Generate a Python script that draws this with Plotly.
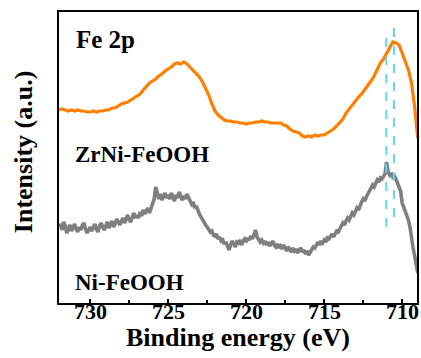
import plotly.graph_objects as go

energy = [732.0, 731.8, 731.6, 731.4, 731.2, 731.0, 730.8, 730.6, 730.4, 730.2,
          730.0, 729.8, 729.6, 729.4, 729.2, 729.0, 728.8, 728.6, 728.4, 728.2,
          728.0, 727.8, 727.6, 727.4, 727.2, 727.0, 726.8, 726.6, 726.4, 726.2,
          726.0, 725.8, 725.6, 725.4, 725.2, 725.0, 724.8, 724.6, 724.4, 724.2,
          724.0, 723.8, 723.6, 723.4, 723.2, 723.0, 722.8, 722.6, 722.4, 722.2,
          722.0, 721.8, 721.6, 721.4, 721.2, 721.0, 720.8, 720.6, 720.4, 720.2,
          720.0, 719.8, 719.6, 719.4, 719.2, 719.0, 718.8, 718.6, 718.4, 718.2,
          718.0, 717.8, 717.6, 717.4, 717.2, 717.0, 716.8, 716.6, 716.4, 716.2,
          716.0, 715.8, 715.6, 715.4, 715.2, 715.0, 714.8, 714.6, 714.4, 714.2,
          714.0, 713.8, 713.6, 713.4, 713.2, 713.0, 712.8, 712.6, 712.4, 712.2,
          712.0, 711.8, 711.6, 711.4, 711.2, 711.0, 710.8, 710.6, 710.4, 710.2,
          710.0, 709.8, 709.6, 709.4, 709.2, 709.0]

zrni_feooh = [193, 194, 193, 192, 193, 192, 193, 192, 192, 191,
              191, 192, 191, 192, 192, 193, 193, 195, 195, 197,
              199, 200, 201, 203, 205, 207, 209, 213, 217, 220,
              222, 224, 227, 229, 232, 234, 236, 239, 240, 239,
              241, 239, 236, 233, 230, 226, 221, 215, 208, 199,
              192, 188, 185, 183, 182, 182, 181, 181, 180, 180,
              179, 180, 180, 181, 181, 182, 181, 181, 180, 180,
              180, 180, 178, 177, 174, 172, 171, 170, 167, 166,
              167, 166, 168, 167, 168, 168, 170, 172, 174, 177,
              180, 184, 190, 194, 198, 203, 206, 209, 213, 217,
              222, 227, 233, 240, 244, 250, 256, 261, 260, 258,
              250, 241, 233, 220, 196, 165]

energy_fine = [732.0, 731.9, 731.8, 731.7, 731.6, 731.5, 731.4, 731.3, 731.2, 731.1,
               731.0, 730.9, 730.8, 730.7, 730.6, 730.5, 730.4, 730.3, 730.2, 730.1,
               730.0, 729.9, 729.8, 729.7, 729.6, 729.5, 729.4, 729.3, 729.2, 729.1,
               729.0, 728.9, 728.8, 728.7, 728.6, 728.5, 728.4, 728.3, 728.2, 728.1,
               728.0, 727.9, 727.8, 727.7, 727.6, 727.5, 727.4, 727.3, 727.2, 727.1,
               727.0, 726.9, 726.8, 726.7, 726.6, 726.5, 726.4, 726.3, 726.2, 726.1,
               726.0, 725.9, 725.8, 725.7, 725.6, 725.5, 725.4, 725.3, 725.2, 725.1,
               725.0, 724.9, 724.8, 724.7, 724.6, 724.5, 724.4, 724.3, 724.2, 724.1,
               724.0, 723.9, 723.8, 723.7, 723.6, 723.5, 723.4, 723.3, 723.2, 723.1,
               723.0, 722.9, 722.8, 722.7, 722.6, 722.5, 722.4, 722.3, 722.2, 722.1,
               722.0, 721.9, 721.8, 721.7, 721.6, 721.5, 721.4, 721.3, 721.2, 721.1,
               721.0, 720.9, 720.8, 720.7, 720.6, 720.5, 720.4, 720.3, 720.2, 720.1,
               720.0, 719.9, 719.8, 719.7, 719.6, 719.5, 719.4, 719.3, 719.2, 719.1,
               719.0, 718.9, 718.8, 718.7, 718.6, 718.5, 718.4, 718.3, 718.2, 718.1,
               718.0, 717.9, 717.8, 717.7, 717.6, 717.5, 717.4, 717.3, 717.2, 717.1,
               717.0, 716.9, 716.8, 716.7, 716.6, 716.5, 716.4, 716.3, 716.2, 716.1,
               716.0, 715.9, 715.8, 715.7, 715.6, 715.5, 715.4, 715.3, 715.2, 715.1,
               715.0, 714.9, 714.8, 714.7, 714.6, 714.5, 714.4, 714.3, 714.2, 714.1,
               714.0, 713.9, 713.8, 713.7, 713.6, 713.5, 713.4, 713.3, 713.2, 713.1,
               713.0, 712.9, 712.8, 712.7, 712.6, 712.5, 712.4, 712.3, 712.2, 712.1,
               712.0, 711.9, 711.8, 711.7, 711.6, 711.5, 711.4, 711.3, 711.2, 711.1,
               711.0, 710.9, 710.8, 710.7, 710.6, 710.5, 710.4, 710.3, 710.2, 710.1,
               710.0, 709.9, 709.8, 709.7, 709.6, 709.5, 709.4, 709.3, 709.2, 709.1,
               709.0]

ni_feooh = [76, 79, 73, 81, 77, 70, 74, 78, 72, 75,
            79, 74, 71, 76, 73, 78, 80, 74, 70, 73,
            76, 72, 75, 79, 74, 71, 77, 80, 76, 73,
            77, 81, 75, 78, 82, 76, 79, 84, 80, 78,
            82, 85, 80, 84, 88, 83, 81, 86, 90, 85,
            88, 85, 91, 87, 93, 89, 92, 95, 90, 94,
            99, 104, 116, 108, 104, 109, 103, 107, 110, 105,
            108, 104, 110, 106, 102, 108, 105, 111, 106, 103,
            107, 104, 109, 105, 101, 99, 101, 95, 97, 92,
            89, 86, 83, 80, 78, 76, 74, 71, 72, 68,
            67, 69, 64, 66, 62, 63, 59, 61, 57, 53,
            58, 62, 59, 56, 61, 60, 63, 58, 62, 64,
            61, 65, 63, 67, 64, 69, 73, 66, 64, 61,
            63, 60, 62, 58, 61, 57, 59, 62, 58, 56,
            59, 55, 57, 54, 58, 55, 52, 56, 54, 51,
            55, 52, 54, 50, 53, 55, 51, 53, 49, 52,
            48, 51, 54, 56, 55, 59, 61, 58, 62, 60,
            63, 61, 65, 64, 67, 69, 66, 70, 72, 71,
            75, 77, 80, 78, 82, 85, 83, 87, 90, 88,
            92, 95, 93, 98, 101, 104, 102, 106, 109, 112,
            114, 118, 116, 120, 123, 121, 125, 124, 127, 129,
            141, 131, 128, 130, 126, 127, 124, 120, 116, 112,
            100, 96, 91, 87, 83, 76, 63, 55, 47, 40,
            30]

ref_lines = [711.02, 710.53]
ref_spans = [(76, 270), (86, 281)]

x_ticks = [730, 725, 720, 715, 710]
x_tick_text = ["730", "725", "720", "715", "710"]
labels = ["Fe 2p", "ZrNi-FeOOH", "Ni-FeOOH"]

FONT = "Liberation Serif"

def f(size):
    return dict(family=FONT, size=size, color="black", weight="bold")

def b(t):
    return "<b>" + t + "</b>"

fig = go.Figure()
fig.add_trace(go.Scatter(x=energy, y=zrni_feooh, mode="lines",
                         line=dict(color="#FF8000", width=3.2), showlegend=False))
fig.add_trace(go.Scatter(x=energy_fine, y=ni_feooh, mode="lines",
                         line=dict(color="#7F7F7F", width=3.6), showlegend=False))

for xv, (y0, y1) in zip(ref_lines, ref_spans):
    fig.add_shape(type="line", x0=xv, x1=xv, y0=y0, y1=y1, xref="x", yref="y",
                  line=dict(color="#66D4F5", width=2, dash="dash"))

fig.add_annotation(x=0.042, y=0.904, xref="paper", yref="paper", text=b(labels[0]),
                   showarrow=False, xanchor="left", yanchor="middle", font=f(25))
fig.add_annotation(x=0.039, y=0.509, xref="paper", yref="paper", text=b(labels[1]),
                   showarrow=False, xanchor="left", yanchor="middle", font=f(23))
fig.add_annotation(x=0.039, y=0.072, xref="paper", yref="paper", text=b(labels[2]),
                   showarrow=False, xanchor="left", yanchor="middle", font=f(23))
fig.add_annotation(x=(23 - 59) / 360, y=(303 - 152) / 291, xref="paper", yref="paper",
                   text=b("Intensity (a.u.)"), showarrow=False, textangle=-90,
                   xanchor="center", yanchor="middle", font=f(26))
for tv, tt in zip(x_ticks, x_tick_text):
    fig.add_annotation(x=tv, y=(303 - 312) / 291, xref="x", yref="paper", text=b(tt),
                       showarrow=False, xanchor="center", yanchor="middle", font=f(22))
fig.add_annotation(x=0.5, y=(303 - 337) / 291, xref="paper", yref="paper",
                   text=b("Binding energy (eV)"), showarrow=False,
                   xanchor="center", yanchor="middle", font=f(26))

fig.update_layout(
    width=421, height=358,
    margin=dict(l=59, r=2, t=12, b=55),
    paper_bgcolor="white", plot_bgcolor="white",
    font=dict(family=FONT, color="black"),
    xaxis=dict(range=[732, 709.05], tickvals=x_ticks, ticks="inside", ticklen=4,
               tickwidth=1.5, tickcolor="black", showline=True, linecolor="black",
               linewidth=1.6, mirror=True, showgrid=False, zeroline=False,
               showticklabels=False,
               minor=dict(dtick=2.5, tick0=710, ticks="inside", ticklen=3,
                          tickcolor="black", tickwidth=1.5)),
    yaxis=dict(range=[0, 291], showticklabels=False, ticks="", showline=True,
               linecolor="black", linewidth=1.6, mirror=True, showgrid=False,
               zeroline=False),
)

fig.write_html("out.html")
